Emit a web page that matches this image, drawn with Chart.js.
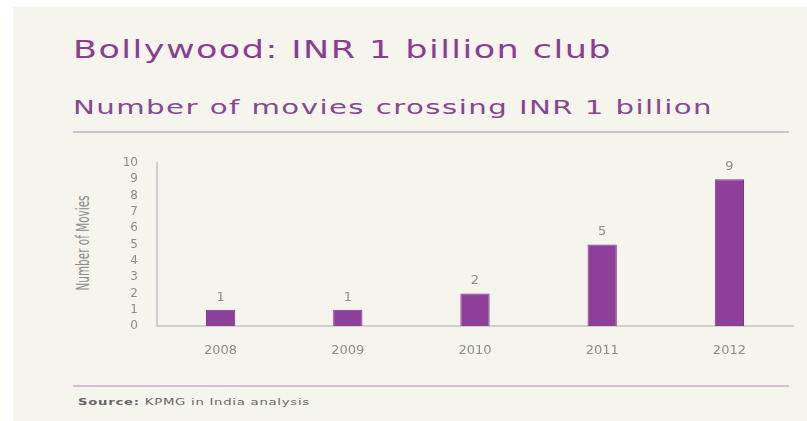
<!DOCTYPE html>
<html>
<head>
<meta charset="utf-8">
<script src="https://cdn.jsdelivr.net/npm/chart.js@4.4.0/dist/chart.umd.min.js"></script>
<style>
  html, body { margin: 0; padding: 0; background: #fff; }
  #wrap { position: relative; width: 807px; height: 421px; overflow: hidden; }
  #panel { position: absolute; left: 13px; top: 7px; width: 794px; height: 414px; background: #f5f5ed; }
  .t { position: absolute; white-space: nowrap; font-family: "DejaVu Sans", sans-serif; transform-origin: 0 0; }
  #title { left: 73px; top: 36px; font-size: 24px; letter-spacing: 1px; color: #8b3c93; }
  #subtitle { left: 73px; top: 95px; font-size: 20px; letter-spacing: 1px; color: #87468f; }
  .rule { position: absolute; left: 73px; width: 716px; height: 2px; background: #d2bfd5; }
  #source { left: 78px; top: 397px; font-size: 9px; letter-spacing: 0.5px; color: #666; }
  #ytitle { font-size: 17px; color: #8c8c8c; }
  canvas { position: absolute; left: 0; top: 0; }
</style>
</head>
<body>
<div id="wrap">
  <div id="panel"></div>
  <div class="t" id="title" data-w="539">Bollywood: INR 1 billion club</div>
  <div class="t" id="subtitle" data-w="640">Number of movies crossing INR 1 billion</div>
  <div class="rule" style="top:131px"></div>
  <div class="rule" style="top:385px"></div>
  <div class="t" id="source" data-w="232"><b>Source:</b> KPMG in India analysis</div>
  <div class="t" id="ytitle">Number of Movies</div>
  <canvas id="c" width="807" height="421"></canvas>
</div>
<script>
// Bollywood: movies crossing INR 1 billion per year
const years = ['2008', '2009', '2010', '2011', '2012'];
const movies = [1, 1, 2, 5, 9];
const yTicks = [0, 1, 2, 3, 4, 5, 6, 7, 8, 9, 10];

const BAR = '#8e3f99';
const GREY = '#8c8c8c';

// stretch the heading texts to the wide look of the original
document.querySelectorAll('.t[data-w]').forEach(el => {
  const w = el.getBoundingClientRect().width;
  el.style.transform = `scaleX(${Number(el.dataset.w) / w})`;
});

// condensed, rotated axis title (centre x 83, y 243, length 95)
(function () {
  const el = document.getElementById('ytitle');
  const r = el.getBoundingClientRect();
  const k = 95 / r.width;
  el.style.transformOrigin = '50% 50%';
  el.style.left = (83 - r.width / 2) + 'px';
  el.style.top = (243 - r.height / 2) + 'px';
  el.style.transform = `rotate(-90deg) scaleX(${k})`;
})();

// value labels above the bars
const barLabels = {
  id: 'barLabels',
  afterDatasetsDraw(chart) {
    const ctx = chart.ctx;
    const meta = chart.getDatasetMeta(0);
    ctx.save();
    ctx.fillStyle = GREY;
    ctx.font = '13px "DejaVu Sans", sans-serif';
    ctx.textAlign = 'center';
    ctx.textBaseline = 'bottom';
    meta.data.forEach((bar, i) => {
      ctx.fillText(String(movies[i]), bar.x, bar.y - 6);
    });
    ctx.restore();
  }
};

new Chart(document.getElementById('c'), {
  type: 'bar',
  data: {
    labels: years,
    datasets: [{
      data: movies,
      backgroundColor: BAR,
      borderColor: '#7f3589',
      borderWidth: 1,
      barPercentage: 0.23,
      categoryPercentage: 1
    }]
  },
  options: {
    responsive: false,
    animation: false,
    layout: { padding: { left: 70, top: 163, right: 14, bottom: 0 } },
    plugins: { legend: { display: false }, tooltip: { enabled: false } },
    scales: {
      x: {
        grid: { display: false, drawTicks: false },
        border: { color: '#cfcfcf', width: 2 },
        ticks: { color: GREY, padding: 17, font: { family: '"DejaVu Sans", sans-serif', size: 13 } },
        afterFit: (s) => { s.height = 95; }
      },
      y: {
        min: 0,
        max: 10,
        afterBuildTicks: (s) => { s.ticks = yTicks.map(v => ({ value: v })); },
        grid: { display: false, drawTicks: false },
        border: { color: '#cfcfcf', width: 2 },
        ticks: { color: GREY, padding: 19, autoSkip: false, font: { family: '"DejaVu Sans", sans-serif', size: 12 } },
        afterFit: (s) => { s.width = 87; }
      }
    }
  },
  plugins: [barLabels]
});
</script>
</body>
</html>
